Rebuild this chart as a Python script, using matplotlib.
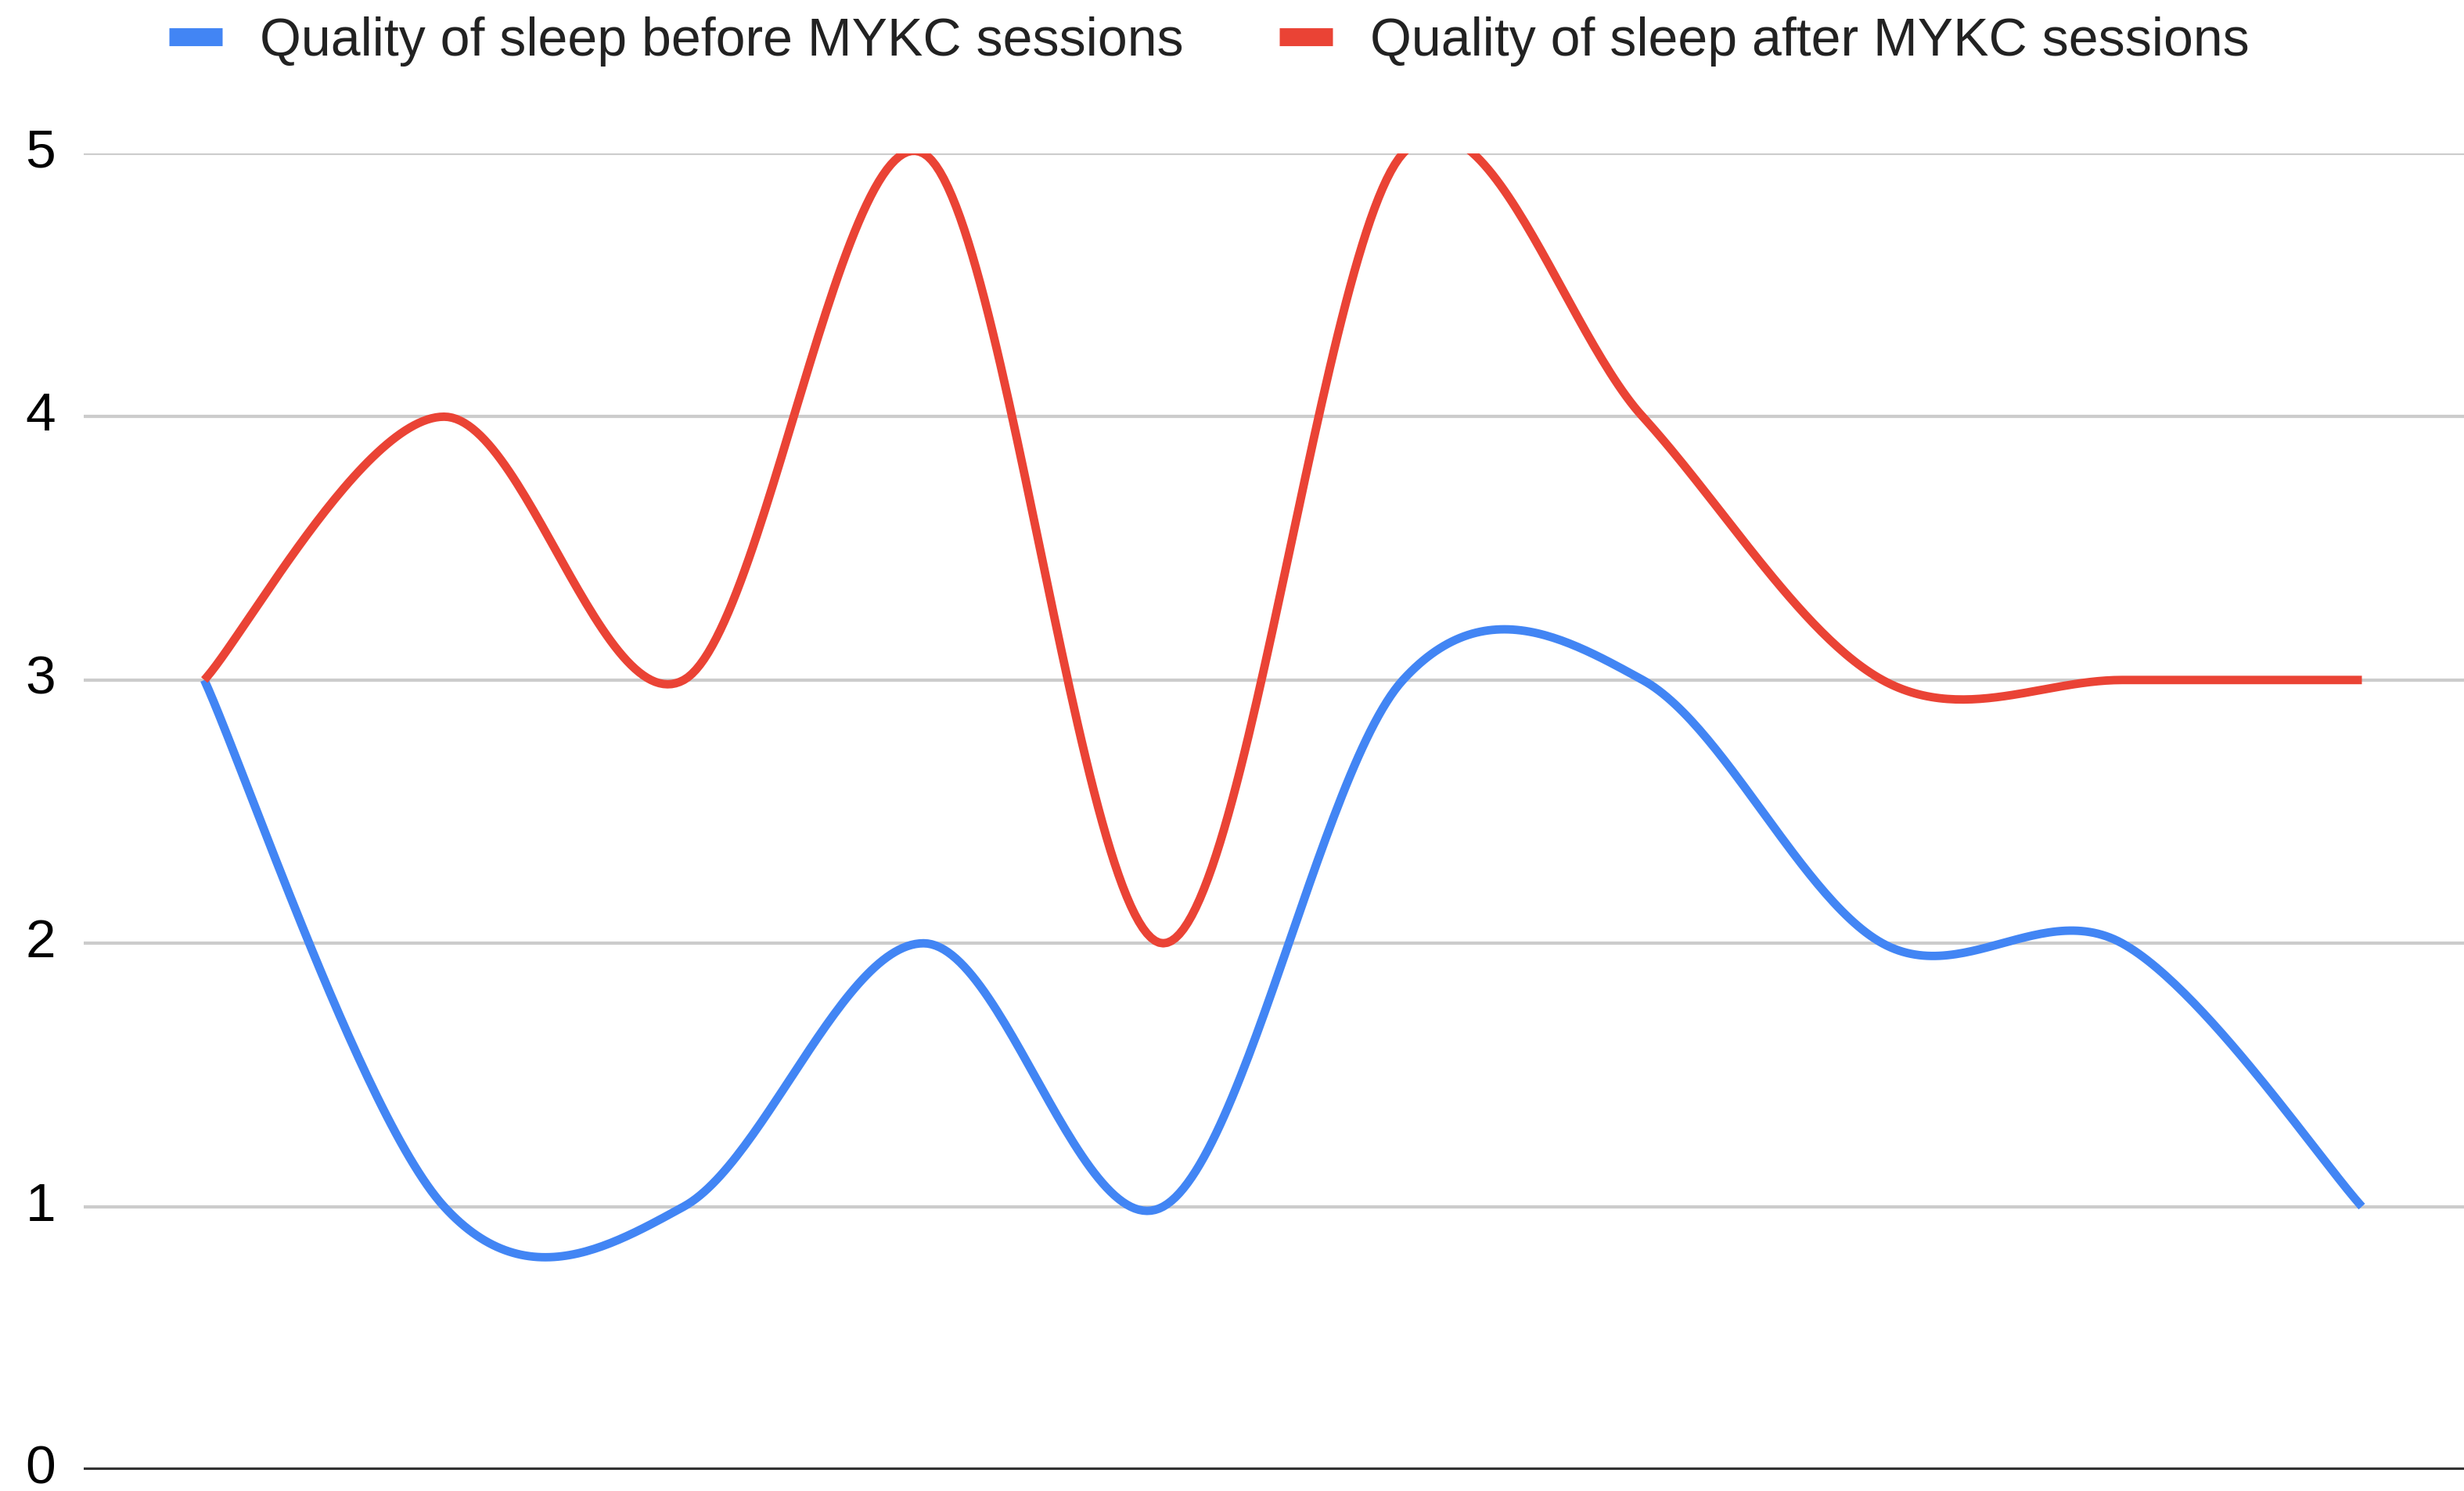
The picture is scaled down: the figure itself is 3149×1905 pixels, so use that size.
import numpy as np
import matplotlib
matplotlib.use("Agg")
import matplotlib.pyplot as plt
from matplotlib.lines import Line2D

plt.rcParams['font.family'] = ['Liberation Sans', 'DejaVu Sans']

# Session index (no category labels shown on the axis)
sessions = list(range(10))
before = [3, 1, 1, 2, 1, 3, 3, 2, 2, 1]
after = [3, 4, 3, 5, 2, 5, 4, 3, 3, 3]
series_names = ["Quality of sleep before MYKC sessions",
                "Quality of sleep after MYKC sessions"]
y_ticks = [0, 1, 2, 3, 4, 5]

BLUE = "#4285F4"
RED = "#EA4335"


def smooth(xs, ys, k=1.0 / 6.0, n=60):
    """Cubic Bezier smoothing through every point (Catmull-Rom style tangents)."""
    xs = np.asarray(xs, float)
    ys = np.asarray(ys, float)
    px = np.concatenate([[xs[0]], xs, [xs[-1]]])
    py = np.concatenate([[ys[0]], ys, [ys[-1]]])
    out_x, out_y = [], []
    t = np.linspace(0, 1, n)
    for i in range(len(xs) - 1):
        j = i + 1
        p0x, p0y = px[j], py[j]
        p3x, p3y = px[j + 1], py[j + 1]
        c1x = p0x + k * (px[j + 1] - px[j - 1])
        c1y = p0y + k * (py[j + 1] - py[j - 1])
        c2x = p3x - k * (px[j + 2] - px[j])
        c2y = p3y - k * (py[j + 2] - py[j])
        bx = ((1 - t) ** 3 * p0x + 3 * (1 - t) ** 2 * t * c1x
              + 3 * (1 - t) * t ** 2 * c2x + t ** 3 * p3x)
        by = ((1 - t) ** 3 * p0y + 3 * (1 - t) ** 2 * t * c1y
              + 3 * (1 - t) * t ** 2 * c2y + t ** 3 * p3y)
        if i > 0:
            bx, by = bx[1:], by[1:]
        out_x.append(bx)
        out_y.append(by)
    return np.concatenate(out_x), np.concatenate(out_y)


fig = plt.figure(figsize=(31.49, 19.05), dpi=100)
ax = fig.add_axes([107 / 3149, 27 / 1905, 1 - 107 / 3149, (1878 - 196) / 1905])

ax.set_ylim(0, 5)
ax.set_xlim(-0.503, 9.426)

for v in y_ticks[1:]:
    ax.axhline(v, color="#CCCCCC", lw=3.0, zorder=1)
ax.axhline(0, color="#333333", lw=4.5, zorder=3)

for ys, c in ((before, BLUE), (after, RED)):
    sx, sy = smooth(sessions, ys)
    ax.plot(sx, sy, color=c, lw=7.8, solid_capstyle="butt",
            solid_joinstyle="round", zorder=2)

ax.set_yticks(y_ticks)
ax.set_yticklabels([str(v) for v in y_ticks], va="center")
ax.set_xticks([])
ax.tick_params(axis="y", length=0, pad=26, labelsize=50, labelcolor="#000000")
for s in ax.spines.values():
    s.set_visible(False)

handles = [Line2D([0], [0], color=BLUE, lw=16.5, solid_capstyle="butt"),
           Line2D([0], [0], color=RED, lw=16.5, solid_capstyle="butt")]
fig.legend(handles, series_names, loc="center left",
           bbox_to_anchor=(216 / 3149, 1 - 53 / 1905), ncol=2, frameon=False,
           fontsize=49, handlelength=1.0, handletextpad=0.7,
           columnspacing=1.8, borderpad=0, borderaxespad=0,
           labelcolor="#222222")

fig.savefig("out.png", dpi=100, facecolor="white")
